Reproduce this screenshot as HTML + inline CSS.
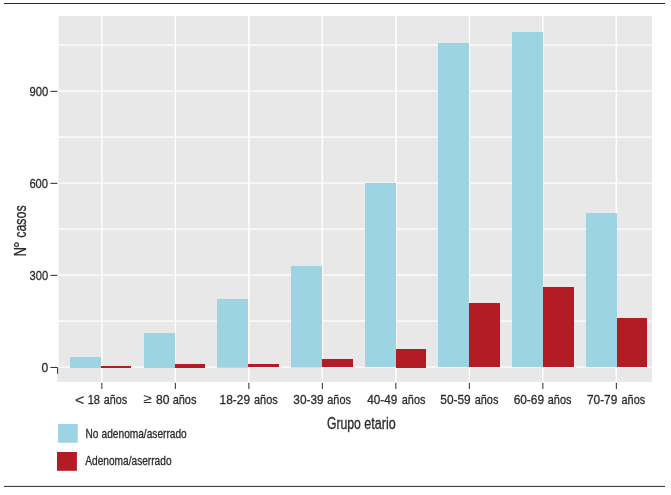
<!DOCTYPE html>
<html lang="es"><head><meta charset="utf-8"><title>Grupo etario</title>
<style>html,body{margin:0;padding:0;background:#fff}body{width:671px;height:495px;overflow:hidden}</style></head>
<body>
<svg width="671" height="495" viewBox="0 0 671 495" style="display:block">
<rect width="671" height="495" fill="#fff"/>
<line x1="4" x2="665" y1="3.5" y2="3.5" stroke="#2a2a2a" stroke-width="1.2"/>
<line x1="4" x2="665" y1="486.4" y2="486.4" stroke="#2a2a2a" stroke-width="1"/>
<rect x="58.55" y="16" width="593.45" height="365.9" fill="#e8e8e8"/>
<rect x="57.2" y="367.6" width="2" height="14.30" fill="#e8e8e8"/>
<rect x="57.2" y="381" width="1" height="1.8" fill="#f1f1f1"/>
<g stroke="#fff" stroke-width="1.2">
<line x1="58.55" x2="652" y1="367.2" y2="367.2"/>
<line x1="58.55" x2="652" y1="321.2" y2="321.2"/>
<line x1="58.55" x2="652" y1="275.2" y2="275.2"/>
<line x1="58.55" x2="652" y1="229.2" y2="229.2"/>
<line x1="58.55" x2="652" y1="183.2" y2="183.2"/>
<line x1="58.55" x2="652" y1="137.2" y2="137.2"/>
<line x1="58.55" x2="652" y1="91.19999999999999" y2="91.19999999999999"/>
<line x1="58.55" x2="652" y1="45.19999999999999" y2="45.19999999999999"/>
</g><g stroke="#fff" stroke-width="1.5">
<line x1="101.85" x2="101.85" y1="16" y2="381.9"/>
<line x1="175.35" x2="175.35" y1="16" y2="381.9"/>
<line x1="248.85" x2="248.85" y1="16" y2="381.9"/>
<line x1="322.35" x2="322.35" y1="16" y2="381.9"/>
<line x1="395.85" x2="395.85" y1="16" y2="381.9"/>
<line x1="469.35" x2="469.35" y1="16" y2="381.9"/>
<line x1="542.85" x2="542.85" y1="16" y2="381.9"/>
<line x1="616.35" x2="616.35" y1="16" y2="381.9"/>
</g>
<rect x="70" y="357" width="31" height="11.00" fill="#9dd4e3"/>
<rect x="101" y="366" width="30" height="2.00" fill="#b31b25"/>
<rect x="144" y="333" width="31" height="35.00" fill="#9dd4e3"/>
<rect x="175" y="364" width="30" height="4.00" fill="#b31b25"/>
<rect x="217" y="299" width="31" height="68.80" fill="#9dd4e3"/>
<rect x="248" y="364" width="31" height="3.00" fill="#b31b25"/>
<rect x="291" y="266" width="31" height="101.50" fill="#9dd4e3"/>
<rect x="322" y="359" width="31" height="8.00" fill="#b31b25"/>
<rect x="365" y="183" width="31" height="184.00" fill="#9dd4e3"/>
<rect x="396" y="349" width="30" height="19.00" fill="#b31b25"/>
<rect x="438" y="43" width="31" height="324.00" fill="#9dd4e3"/>
<rect x="469" y="303" width="31" height="64.00" fill="#b31b25"/>
<rect x="512" y="32" width="31" height="335.00" fill="#9dd4e3"/>
<rect x="543" y="287" width="31" height="80.00" fill="#b31b25"/>
<rect x="586" y="213" width="31" height="154.00" fill="#9dd4e3"/>
<rect x="617" y="318" width="30" height="49.00" fill="#b31b25"/>
<g stroke="#2b2b2b" stroke-width="1" fill="none">
<line x1="50.4" x2="57.4" y1="275.35" y2="275.35"/>
<line x1="50.4" x2="57.4" y1="183.35" y2="183.35"/>
<line x1="50.4" x2="57.4" y1="91.35" y2="91.35"/>
<path d="M50.4 367.45H57.6V373.8"/>
<line x1="101.85" x2="101.85" y1="382.8" y2="389"/>
<line x1="175.35" x2="175.35" y1="382.8" y2="389"/>
<line x1="248.85" x2="248.85" y1="382.8" y2="389"/>
<line x1="322.35" x2="322.35" y1="382.8" y2="389"/>
<line x1="395.85" x2="395.85" y1="382.8" y2="389"/>
<line x1="469.35" x2="469.35" y1="382.8" y2="389"/>
<line x1="542.85" x2="542.85" y1="382.8" y2="389"/>
<line x1="616.35" x2="616.35" y1="382.8" y2="389"/>
</g>
<g font-family="'Liberation Sans', sans-serif" fill="#2b2b2b" stroke="#2b2b2b" stroke-width="0.3">
<text transform="translate(41.48,371.84999999999997) scale(0.9044,1)" font-size="13.3">0</text>
<text transform="translate(29.53,279.84999999999997) scale(0.8387,1)" font-size="13.3">300</text>
<text transform="translate(29.38,187.85) scale(0.8454,1)" font-size="13.3">600</text>
<text transform="translate(29.42,95.85) scale(0.8433,1)" font-size="13.3">900</text>
<text transform="translate(74.96,404.6) scale(1.1394,1)" font-size="14.0" stroke-width="0.1">&lt;</text>
<text transform="translate(87.66,403.7) scale(0.8332,1)" font-size="13.3">18</text>
<text transform="translate(103.79,403.7) scale(0.8095,1)" font-size="13.3">años</text>
<text transform="translate(143.26,403.3) scale(1.1607,1)" font-size="13.3" stroke-width="0">≥</text>
<text transform="translate(156.07,403.7) scale(0.9127,1)" font-size="13.3">80</text>
<text transform="translate(172.63,403.7) scale(0.8239,1)" font-size="13.3">años</text>
<text transform="translate(219.59,403.7) scale(0.8958,1)" font-size="13.3">18-29</text>
<text transform="translate(254.04,403.7) scale(0.8185,1)" font-size="13.3">años</text>
<text transform="translate(293.30,403.7) scale(0.8896,1)" font-size="13.3">30-39</text>
<text transform="translate(327.29,403.7) scale(0.8185,1)" font-size="13.3">años</text>
<text transform="translate(367.23,403.7) scale(0.8857,1)" font-size="13.3">40-49</text>
<text transform="translate(401.79,403.7) scale(0.8185,1)" font-size="13.3">años</text>
<text transform="translate(440.27,403.7) scale(0.8934,1)" font-size="13.3">50-59</text>
<text transform="translate(474.74,403.7) scale(0.8203,1)" font-size="13.3">años</text>
<text transform="translate(513.65,403.7) scale(0.8942,1)" font-size="13.3">60-69</text>
<text transform="translate(547.79,403.7) scale(0.8185,1)" font-size="13.3">años</text>
<text transform="translate(586.89,403.7) scale(0.8959,1)" font-size="13.3">70-79</text>
<text transform="translate(621.54,403.7) scale(0.8185,1)" font-size="13.3">años</text>
<text transform="translate(326.88,429.4) scale(0.7849,1)" font-size="15.6">Grupo</text>
<text transform="translate(364.37,429.4) scale(0.8036,1)" font-size="15.6">etario</text>
<text transform="translate(25.7,255.1) rotate(-90) translate(-1.04,0) scale(0.7566,1)" font-size="16.8">N</text>
<text transform="translate(25.7,255.1) rotate(-90) translate(7.10,0) scale(0.9982,1)" font-size="16.8">°</text>
<text transform="translate(25.7,255.1) rotate(-90) translate(17.27,0) scale(0.7400,1)" font-size="16.8">casos</text>
<text transform="translate(85.58,438.0) scale(0.8305,1)" font-size="12.1">No</text>
<text transform="translate(101.57,438.0) scale(0.8394,1)" font-size="12.1">adenoma/aserrado</text>
<text transform="translate(85.28,464.8) scale(0.8254,1)" font-size="12.3">Adenoma/aserrado</text>
</g>
<rect x="58" y="424" width="19.8" height="18.8" fill="#9dd4e3"/>
<rect x="57" y="452" width="19.9" height="18.8" fill="#b31b25"/>
</svg>
</body></html>
